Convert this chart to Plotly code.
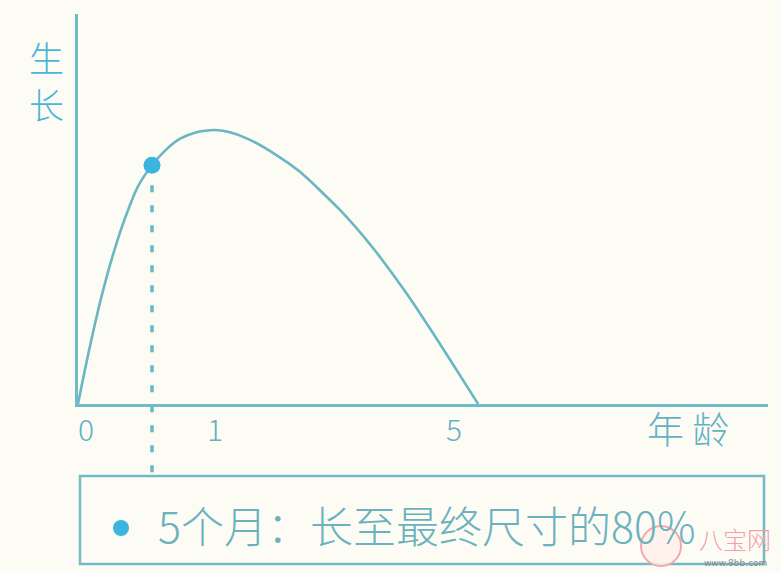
import plotly.graph_objects as go

# ---- data (schematic units: age position, relative growth) ----
curve_x = [0.0, 0.029, 0.073, 0.124, 0.182, 0.255, 0.328, 0.438, 0.540, 0.628, 0.745,
           0.860, 0.993, 1.120, 1.255, 1.445, 1.620, 1.912, 2.153, 2.401, 2.642, 2.861, 2.920]
curve_y = [0.0, 0.073, 0.178, 0.293, 0.413, 0.544, 0.657, 0.794, 0.871, 0.921, 0.968,
           0.991, 1.0, 0.990, 0.964, 0.909, 0.847, 0.708, 0.569, 0.401, 0.219, 0.047, 0.0]
point_x = [0.540]
point_y = [0.871]
tick_labels = ["0", "1", "5"]
tick_pos = [0.0, 1.0, 2.745]
y_title = ["生", "长"]
x_title = "年 龄"
note_text = "5个月：长至最终尺寸的80%"
watermark = "八宝网"
watermark_url = "www.8bb.com"

W, H = 781, 572
X_MAX, Y_MAX = 5.036, 1.423

def px(x):
    return x / W

def py(y):
    return 1 - y / H

TEAL = "#6fbcc8"
BLUE = "#3cb4e0"
TEXT = "#62b2c2"
FONT = "Noto Sans CJK SC"

fig = go.Figure()
fig.add_trace(go.Scatter(x=curve_x, y=curve_y, mode="lines",
                         line=dict(color="#6ab6c2", width=2.6, shape="spline", smoothing=0.6),
                         hoverinfo="skip", cliponaxis=False))
fig.add_trace(go.Scatter(x=point_x, y=point_y, mode="markers",
                         marker=dict(color=BLUE, size=17), cliponaxis=False, hoverinfo="skip"))

x_dom = [px(78), px(768)]
y_dom = [py(404), py(14)]

fig.update_layout(
    width=W, height=H, margin=dict(l=0, r=0, t=0, b=0),
    paper_bgcolor="#fcfcf5", plot_bgcolor="#fcfcf5",
    showlegend=False,
    xaxis=dict(domain=x_dom, range=[0, X_MAX], showgrid=False, zeroline=False,
               showticklabels=False, ticks="", showline=True, linecolor=TEAL, linewidth=3),
    yaxis=dict(domain=y_dom, range=[0, Y_MAX], showgrid=False, zeroline=False,
               showticklabels=False, ticks="", showline=True, linecolor=TEAL, linewidth=3),
)

# dashed drop line from the point down to the note box
y_top_paper = y_dom[0] + point_y[0] / Y_MAX * (y_dom[1] - y_dom[0])
fig.add_shape(type="line", xref="x", yref="paper", x0=point_x[0], x1=point_x[0],
              y0=y_top_paper, y1=py(476), layer="below",
              line=dict(color="#66b6c5", width=3.5, dash="7px,13px"))

# tick labels
for lab, pos in zip(tick_labels, tick_pos):
    fig.add_annotation(x=pos, y=py(428), xref="x", yref="paper", text=lab, showarrow=False,
                       xanchor="center", yanchor="middle", xshift=8 if pos == 0 else 0,
                       font=dict(family=FONT, size=30, color=TEXT, weight=300))

# axis titles
for ch, yy in zip(y_title, [56, 103]):
    fig.add_annotation(x=px(46), y=py(yy), xref="paper", yref="paper", text=ch, showarrow=False,
                       xanchor="center", yanchor="middle",
                       font=dict(family=FONT, size=35, color="#4ab5d6", weight=300))
fig.add_annotation(x=px(688), y=py(428), xref="paper", yref="paper", text=x_title, showarrow=False,
                   xanchor="center", yanchor="middle",
                   font=dict(family=FONT, size=37, color=TEXT, weight=300))

# note box
fig.add_shape(type="rect", xref="paper", yref="paper", x0=px(80), x1=px(764), y0=py(564), y1=py(476),
              line=dict(color=TEAL, width=2.5), fillcolor="rgba(0,0,0,0)")
fig.add_shape(type="circle", xref="paper", yref="paper", x0=px(113), x1=px(129), y0=py(536), y1=py(520),
              line=dict(width=0), fillcolor=BLUE)
fig.add_annotation(x=px(156), y=py(524), xref="paper", yref="paper", text=note_text, showarrow=False,
                   xanchor="left", yanchor="middle",
                   font=dict(family=FONT, size=43, color="#6cb2be", weight=300))

# watermark
fig.add_shape(type="circle", xref="paper", yref="paper", x0=px(641), x1=px(681), y0=py(566), y1=py(526),
              line=dict(color="#f4a7ad", width=2), fillcolor="rgba(255,240,235,0.85)")
fig.add_annotation(x=px(735), y=py(538), xref="paper", yref="paper", text=watermark, showarrow=False,
                   xanchor="center", yanchor="middle",
                   font=dict(family=FONT, size=24, color="#f2a0a8", weight=300))
fig.add_annotation(x=px(735), y=py(563), xref="paper", yref="paper", text=watermark_url, showarrow=False,
                   xanchor="center", yanchor="middle",
                   font=dict(family="DejaVu Sans", size=9, color="#8a8a8a"))

fig.write_html("out.html", config={"displayModeBar": False},
               post_script="document.body.style.margin='0px';")
